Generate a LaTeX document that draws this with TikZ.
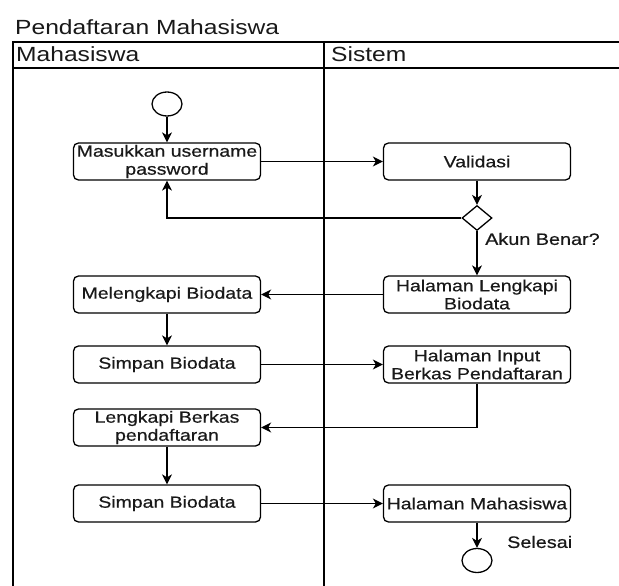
\documentclass[tikz,border=0pt]{standalone}
\usepackage{fontspec}
\setmainfont[FakeStretch=1.2]{Liberation Sans}
\newfontfamily\labelfont[FakeStretch=1.2,FakeBold=0.5]{Liberation Sans}
\usetikzlibrary{shapes.geometric,arrows.meta}
\begin{document}
\begin{tikzpicture}[x=1pt,y=-1pt,
  every node/.style={text=black!90},
  actbox/.style={draw, line width=1.3pt, rounded corners=5pt, minimum width=187pt,
    minimum height=37pt, inner sep=0pt, align=center,
    font=\labelfont\fontsize{16.2}{18}\selectfont},
  terminal/.style={draw, line width=1.3pt, ellipse, minimum width=30pt, minimum height=24pt, inner sep=0pt},
  decision/.style={draw, line width=1.3pt, diamond, minimum width=30pt, minimum height=25pt, inner sep=0pt, shape aspect=1.2},
  flow/.style={line width=1.3pt, -{Stealth[length=10pt,width=10pt,inset=3pt]}},
  lane/.style={line width=1.3pt},
  lbl/.style={font=\labelfont\fontsize{16.5}{18}\selectfont, inner sep=0pt},
  hdr/.style={font=\fontsize{20.5}{24}\selectfont, inner sep=0pt}
]
\useasboundingbox (0,0) rectangle (619,586);
\fill[white] (0,0) rectangle (619,586);

% pool and lanes
\begin{scope}
\clip (0,0) rectangle (619,586);
\draw[lane] (13,600) -- (13,42) -- (640,42);
\draw[lane] (13,68) -- (640,68);
\draw[lane] (324,42) -- (324,600);
\end{scope}
\node[hdr, anchor=base west] (title) at (15,35) {Pendaftaran Mahasiswa};
\node[hdr, anchor=base west] (laneA) at (16,62) {Mahasiswa};
\node[hdr, anchor=base west] (laneB) at (331,62) {Sistem};

% activities
\node[terminal] (start) at (167,104) {};
\node[actbox] (login) at (167,161.5) {Masukkan username\\password};
\node[actbox] (valid) at (477,161.5) {Validasi};
\node[decision] (dec) at (477,218) {};
\node[lbl, anchor=west] (decl) at (485,239) {Akun Benar?};
\node[actbox] (hlb) at (477,294.5) {Halaman Lengkapi\\Biodata};
\node[actbox] (mlb) at (167,294.5) {Melengkapi Biodata};
\node[actbox] (sb1) at (167,364.5) {Simpan Biodata};
\node[actbox] (hib) at (477,364.5) {Halaman Input\\Berkas Pendaftaran};
\node[actbox] (lbp) at (167,427.5) {Lengkapi Berkas\\pendaftaran};
\node[actbox] (sb2) at (167,503.5) {Simpan Biodata};
\node[actbox] (hm) at (477,503.5) {Halaman Mahasiswa};
\node[terminal] (stop) at (477,560.5) {};
\node[lbl, anchor=west] (stopl) at (507,542) {Selesai};

% control flow
\draw[flow] (start) -- (login);
\draw[flow] (login) -- (valid);
\draw[flow] (valid) -- (dec);
\draw[flow] (dec.west) -| (login.south);
\draw[flow] (dec) -- (hlb);
\draw[flow] (hlb) -- (mlb);
\draw[flow] (mlb) -- (sb1);
\draw[flow] (sb1) -- (hib);
\draw[flow] (hib.south) |- (lbp.east);
\draw[flow] (lbp) -- (sb2);
\draw[flow] (sb2) -- (hm);
\draw[flow] (hm) -- (stop);
\end{tikzpicture}
\end{document}
